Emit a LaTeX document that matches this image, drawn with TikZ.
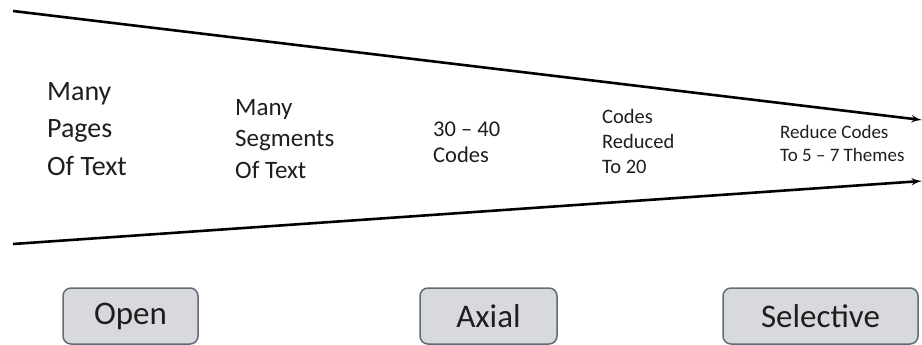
\documentclass[tikz,border=0pt]{standalone}
\usepackage{fontspec}
\setmainfont{Carlito}
\usepackage{tikz}
\usetikzlibrary{shapes,arrows}
\definecolor{boxfill}{HTML}{D7D9DD}
\definecolor{boxline}{HTML}{5F6B78}
\definecolor{txt}{HTML}{1E1E1E}
\tikzstyle{stage} = [draw=boxline, fill=boxfill, rounded corners=8pt, line width=1.5pt, minimum height=56pt, text=txt, font=\fontsize{33}{40}\selectfont]
\tikzstyle{phase} = [anchor=north west, align=left, inner sep=0pt, text=txt]
\tikzstyle{funnel} = [line width=2.6pt]

\begin{document}
\begin{tikzpicture}[x=1pt, y=-1pt, >=latex']
    \useasboundingbox (0,0) rectangle (922,345);
    \coordinate (topstart) at (13,11);
    \coordinate (topend) at (922,120);
    \coordinate (botstart) at (13,244);
    \coordinate (botend) at (922,181);
    \draw [funnel, ->] (topstart) -- (topend);
    \draw [funnel, ->] (botstart) -- (botend);
    % what is left at each step
    \node [phase, font=\fontsize{28}{37.5}\selectfont] (pages) at (47,82) {Many\\Pages\\Of Text};
    \node [phase, font=\fontsize{25}{31.5}\selectfont] (segments) at (235,99) {Many\\Segments\\Of Text};
    \node [phase, font=\fontsize{22.5}{26}\selectfont] (codes) at (433,122) {30 -- 40\\Codes};
    \node [phase, font=\fontsize{20.5}{25}\selectfont] (twenty) at (602,109) {Codes\\Reduced\\To 20};
    \node [phase, font=\fontsize{19}{23.5}\selectfont] (themes) at (780,125) {Reduce Codes\\To 5 -- 7 Themes};
    % coding stages
    \node [stage, minimum width=135pt] (open) at (130.5,316) {Open};
    \node [stage, minimum width=137pt] (axial) at (488.5,316) {Axial};
    \node [stage, minimum width=195pt] (selective) at (820.5,316) {Selective};
\end{tikzpicture}
\end{document}
